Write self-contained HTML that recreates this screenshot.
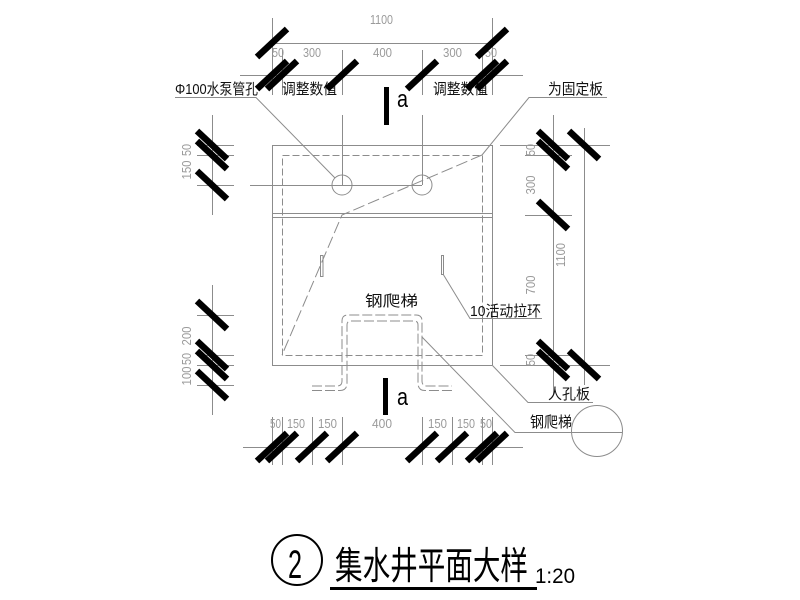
<!DOCTYPE html>
<html><head><meta charset="utf-8"><style>
html,body{margin:0;padding:0;background:#fff;}
svg{display:block;}
.l{stroke:#8c8c8c;stroke-width:1;fill:none;}
.d{stroke:#8c8c8c;stroke-width:1;fill:none;stroke-dasharray:7 3;}
.h{stroke:#8c8c8c;stroke-width:1;fill:none;stroke-dasharray:12 4;}
.s{stroke:#000;stroke-width:6.5;stroke-linecap:butt;}
.n{font-family:"Liberation Sans",sans-serif;font-size:13px;fill:#9a9a9a;}
.c{font-family:"Liberation Sans","Noto Sans CJK SC",sans-serif;font-size:15px;fill:#111;}
</style></head><body>
<svg width="800" height="600" viewBox="0 0 800 600" xmlns="http://www.w3.org/2000/svg">
<rect width="800" height="600" fill="#fff"/>

<!-- top dimensions -->
<line class="l" x1="272" y1="43.5" x2="492" y2="43.5"/>
<line class="l" x1="240" y1="75.5" x2="523" y2="75.5"/>
<line class="l" x1="272.5" y1="18" x2="272.5" y2="95"/>
<line class="l" x1="492.5" y1="18" x2="492.5" y2="95"/>
<line class="l" x1="282.5" y1="50" x2="282.5" y2="95"/>
<line class="l" x1="482.5" y1="50" x2="482.5" y2="95"/>
<line class="l" x1="342.5" y1="50" x2="342.5" y2="95"/>
<line class="l" x1="422.5" y1="50" x2="422.5" y2="95"/>
<text class="n" x="370" y="24" textLength="23" lengthAdjust="spacingAndGlyphs">1100</text>
<text class="n" x="272" y="57" textLength="12" lengthAdjust="spacingAndGlyphs">50</text>
<text class="n" x="303" y="57" textLength="18" lengthAdjust="spacingAndGlyphs">300</text>
<text class="n" x="373" y="57" textLength="19" lengthAdjust="spacingAndGlyphs">400</text>
<text class="n" x="443" y="57" textLength="19" lengthAdjust="spacingAndGlyphs">300</text>
<text class="n" x="485" y="57" textLength="12" lengthAdjust="spacingAndGlyphs">50</text>

<!-- left dimensions -->
<line class="l" x1="212.5" y1="115" x2="212.5" y2="215"/>
<line class="l" x1="212.5" y1="285" x2="212.5" y2="415"/>
<line class="l" x1="197" y1="145.5" x2="234" y2="145.5"/>
<line class="l" x1="197" y1="155.5" x2="234" y2="155.5"/>
<line class="l" x1="197" y1="185.5" x2="234" y2="185.5"/>
<line class="l" x1="197" y1="315.5" x2="234" y2="315.5"/>
<line class="l" x1="197" y1="355.5" x2="234" y2="355.5"/>
<line class="l" x1="197" y1="365.5" x2="234" y2="365.5"/>
<line class="l" x1="197" y1="385.5" x2="234" y2="385.5"/>
<g class="n" text-anchor="middle">
<text transform="translate(191,150) rotate(-90)" textLength="12" lengthAdjust="spacingAndGlyphs">50</text>
<text transform="translate(191,170) rotate(-90)" textLength="19" lengthAdjust="spacingAndGlyphs">150</text>
<text transform="translate(191,336) rotate(-90)" textLength="19" lengthAdjust="spacingAndGlyphs">200</text>
<text transform="translate(191,359) rotate(-90)" textLength="12" lengthAdjust="spacingAndGlyphs">50</text>
<text transform="translate(191,376) rotate(-90)" textLength="19" lengthAdjust="spacingAndGlyphs">100</text>
</g>

<!-- right dimensions -->
<line class="l" x1="553.5" y1="115" x2="553.5" y2="395"/>
<line class="l" x1="584.5" y1="128" x2="584.5" y2="385"/>
<line class="l" x1="500" y1="145.5" x2="610" y2="145.5"/>
<line class="l" x1="525" y1="155.5" x2="572" y2="155.5"/>
<line class="l" x1="525" y1="215.5" x2="572" y2="215.5"/>
<line class="l" x1="525" y1="355.5" x2="572" y2="355.5"/>
<line class="l" x1="500" y1="365.5" x2="610" y2="365.5"/>
<g class="n" text-anchor="middle">
<text transform="translate(535,150) rotate(-90)" textLength="12" lengthAdjust="spacingAndGlyphs">50</text>
<text transform="translate(535,185) rotate(-90)" textLength="19" lengthAdjust="spacingAndGlyphs">300</text>
<text transform="translate(535,285) rotate(-90)" textLength="19" lengthAdjust="spacingAndGlyphs">700</text>
<text transform="translate(535,360) rotate(-90)" textLength="12" lengthAdjust="spacingAndGlyphs">50</text>
<text transform="translate(565,255) rotate(-90)" textLength="24" lengthAdjust="spacingAndGlyphs">1100</text>
</g>

<!-- bottom dimensions -->
<line class="l" x1="243" y1="447.5" x2="523" y2="447.5"/>
<line class="l" x1="272.5" y1="417" x2="272.5" y2="465"/>
<line class="l" x1="282.5" y1="417" x2="282.5" y2="465"/>
<line class="l" x1="312.5" y1="417" x2="312.5" y2="465"/>
<line class="l" x1="342.5" y1="417" x2="342.5" y2="465"/>
<line class="l" x1="422.5" y1="417" x2="422.5" y2="465"/>
<line class="l" x1="452.5" y1="417" x2="452.5" y2="465"/>
<line class="l" x1="482.5" y1="417" x2="482.5" y2="465"/>
<line class="l" x1="492.5" y1="417" x2="492.5" y2="465"/>
<text class="n" x="270" y="428" textLength="11" lengthAdjust="spacingAndGlyphs">50</text>
<text class="n" x="287" y="428" textLength="18" lengthAdjust="spacingAndGlyphs">150</text>
<text class="n" x="318" y="428" textLength="19" lengthAdjust="spacingAndGlyphs">150</text>
<text class="n" x="372" y="428" textLength="20" lengthAdjust="spacingAndGlyphs">400</text>
<text class="n" x="428" y="428" textLength="19" lengthAdjust="spacingAndGlyphs">150</text>
<text class="n" x="457" y="428" textLength="18" lengthAdjust="spacingAndGlyphs">150</text>
<text class="n" x="480" y="428" textLength="12" lengthAdjust="spacingAndGlyphs">50</text>

<!-- pit walls -->
<line class="l" x1="272" y1="145.5" x2="492" y2="145.5"/>
<line class="l" x1="272" y1="365.5" x2="492" y2="365.5"/>
<line class="l" x1="272.5" y1="145" x2="272.5" y2="365"/>
<line class="l" x1="492.5" y1="145" x2="492.5" y2="365"/>
<line class="l" x1="272" y1="213.5" x2="492" y2="213.5"/>
<line class="l" x1="272" y1="217.5" x2="492" y2="217.5"/>
<rect class="d" x="282.5" y="155.5" width="200" height="200"/>

<!-- pipe holes -->
<line class="l" x1="250" y1="185.5" x2="422" y2="185.5"/>
<line class="l" x1="342.5" y1="115" x2="342.5" y2="185"/>
<line class="l" x1="422.5" y1="115" x2="422.5" y2="185"/>
<circle class="l" cx="342" cy="185" r="10"/>
<circle class="l" cx="422" cy="185" r="10"/>

<!-- hinge dashed -->
<polyline class="h" points="482,155 342,215 282,355"/>

<!-- pull rings -->
<rect x="320.5" y="255.5" width="2.5" height="21" fill="none" stroke="#8c8c8c" stroke-width="1"/>
<rect x="441.5" y="255.5" width="2" height="19" fill="none" stroke="#8c8c8c" stroke-width="1"/>

<!-- ladder -->
<path class="h" style="stroke-dasharray:10 3" d="M312,386 L337,386 Q342,386 342,381 L342,321 Q342,315 348,315 L416,315 Q422,315 422,321 L422,381 Q422,386 427,386 L452,386"/>
<path class="h" style="stroke-dasharray:10 3" d="M312,390.5 L340,390.5 Q347,390.5 347,383 L347,325 Q347,321 351,321 L414,321 Q418,321 418,325 L418,383 Q418,390.5 425,390.5 L452,390.5"/>

<!-- leaders -->
<polyline class="l" points="175,97.5 256,97.5 335,178"/>
<polyline class="l" points="607,97.5 529,97.5 482,155"/>
<polyline class="l" points="443,274 470,318.5 542,318.5"/>
<polyline class="l" points="492,365 528,402.5 593,402.5"/>
<polyline class="l" points="422,337 515,432.5 622,432.5"/>
<circle class="l" cx="597" cy="431" r="25.5"/>

<!-- labels -->
<text class="c" x="175" y="94" textLength="83" lengthAdjust="spacingAndGlyphs">Φ100水泵管孔</text>
<text class="c" x="282" y="94" textLength="55" lengthAdjust="spacingAndGlyphs">调整数值</text>
<text class="c" x="433" y="94" textLength="55" lengthAdjust="spacingAndGlyphs">调整数值</text>
<text class="c" x="548" y="94" textLength="55" lengthAdjust="spacingAndGlyphs">为固定板</text>
<text class="c" x="365" y="306" textLength="53" lengthAdjust="spacingAndGlyphs">钢爬梯</text>
<text class="c" x="470" y="316" textLength="71" lengthAdjust="spacingAndGlyphs">10活动拉环</text>
<text class="c" x="548" y="399" textLength="42" lengthAdjust="spacingAndGlyphs">人孔板</text>
<text class="c" x="530" y="427" textLength="42" lengthAdjust="spacingAndGlyphs">钢爬梯</text>

<!-- section marks -->
<rect x="384" y="87" width="5" height="38" fill="#000"/>
<text x="397" y="107" font-family="Liberation Sans,sans-serif" font-size="24" fill="#000" textLength="11" lengthAdjust="spacingAndGlyphs">a</text>
<rect x="383" y="378" width="5" height="37" fill="#000"/>
<text x="397" y="405" font-family="Liberation Sans,sans-serif" font-size="24" fill="#000" textLength="11" lengthAdjust="spacingAndGlyphs">a</text>

<!-- slashes: horizontal dims "/" -->
<g class="s">
<line x1="257" y1="57" x2="287" y2="29"/>
<line x1="477" y1="57" x2="507" y2="29"/>
<line x1="257" y1="89" x2="287" y2="61"/>
<line x1="267" y1="89" x2="297" y2="61"/>
<line x1="327" y1="89" x2="357" y2="61"/>
<line x1="407" y1="89" x2="437" y2="61"/>
<line x1="467" y1="89" x2="497" y2="61"/>
<line x1="477" y1="89" x2="507" y2="61"/>
<line x1="257" y1="461" x2="287" y2="433"/>
<line x1="267" y1="461" x2="297" y2="433"/>
<line x1="297" y1="461" x2="327" y2="433"/>
<line x1="327" y1="461" x2="357" y2="433"/>
<line x1="407" y1="461" x2="437" y2="433"/>
<line x1="437" y1="461" x2="467" y2="433"/>
<line x1="467" y1="461" x2="497" y2="433"/>
<line x1="477" y1="461" x2="507" y2="433"/>
</g>
<!-- slashes: vertical dims "\" -->
<g class="s">
<line x1="197" y1="131" x2="227" y2="159"/>
<line x1="197" y1="141" x2="227" y2="169"/>
<line x1="197" y1="171" x2="227" y2="199"/>
<line x1="197" y1="301" x2="227" y2="329"/>
<line x1="197" y1="341" x2="227" y2="369"/>
<line x1="197" y1="351" x2="227" y2="379"/>
<line x1="197" y1="371" x2="227" y2="399"/>
<line x1="538" y1="131" x2="568" y2="159"/>
<line x1="538" y1="141" x2="568" y2="169"/>
<line x1="538" y1="201" x2="568" y2="229"/>
<line x1="538" y1="341" x2="568" y2="369"/>
<line x1="538" y1="351" x2="568" y2="379"/>
<line x1="569" y1="131" x2="599" y2="159"/>
<line x1="569" y1="351" x2="599" y2="379"/>
</g>

<!-- title -->
<circle cx="297" cy="560" r="25" fill="none" stroke="#000" stroke-width="2"/>
<text x="288" y="578" font-family="Liberation Sans,sans-serif" font-size="40" fill="#000" textLength="14" lengthAdjust="spacingAndGlyphs">2</text>
<text x="335" y="579" font-family="Liberation Sans,'Noto Sans CJK SC',sans-serif" font-size="38" fill="#000" textLength="193" lengthAdjust="spacingAndGlyphs">集水井平面大样</text>
<rect x="330" y="587" width="207" height="3" fill="#000"/>
<text x="535" y="583" font-family="Liberation Sans,sans-serif" font-size="21" fill="#000" textLength="40" lengthAdjust="spacingAndGlyphs">1:20</text>
</svg>
</body></html>
